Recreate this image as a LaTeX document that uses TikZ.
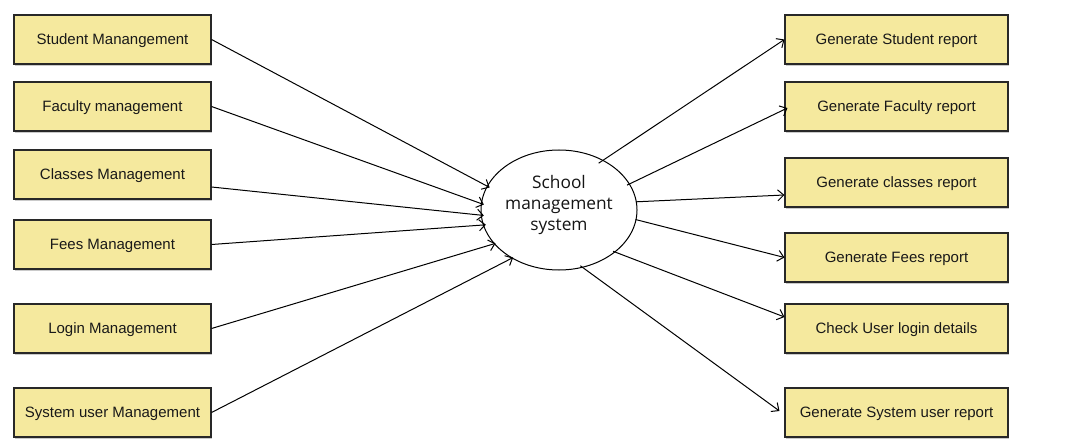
\documentclass[tikz,border=0pt]{standalone}
\usepackage{fontspec}
\setmainfont{Liberation Sans}
\newfontfamily\ellfont{Open Sans}
\usetikzlibrary{arrows.meta,shapes.geometric,calc,shadows}
\definecolor{boxfill}{RGB}{245,233,158}
\definecolor{boxline}{RGB}{40,40,40}
\tikzset{
  procbox/.style={draw=boxline, fill=boxfill, line width=1.1pt, minimum height=49pt, inner sep=0pt,
    text height=10.7pt, text depth=0pt,
    font=\fontsize{15}{17}\selectfont, text=black!90,
    drop shadow={shadow xshift=0.8pt, shadow yshift=-1.6pt, fill=black!35, opacity=0.6}},
  lbox/.style={procbox, minimum width=197pt},
  rbox/.style={procbox, minimum width=223pt},
  sysell/.style={ellipse, draw=black, line width=1pt, fill=white, minimum width=156pt, minimum height=120pt, inner sep=0pt,
    font=\ellfont\fontsize{17.3}{21}\selectfont, text=black!92},
  flow/.style={draw=black, line width=1pt, -{Straight Barb[length=6pt, width=11pt, line width=1pt]}}
}
\begin{document}
\begin{tikzpicture}[x=1pt, y=-1pt]
\useasboundingbox (0,0) rectangle (1075,446);
% left boxes
\node[lbox] (l1) at (112.5,39.5) {Student Manangement};
\node[lbox] (l2) at (112.5,106.5) {Faculty management};
\node[lbox] (l3) at (112.5,174.5) {Classes Management};
\node[lbox] (l4) at (112.5,244.5) {Fees Management};
\node[lbox] (l5) at (112.5,328.5) {Login Management};
\node[lbox] (l6) at (112.5,412.5) {System user Management};
% right boxes
\node[rbox] (r1) at (896.5,39.5) {Generate Student report};
\node[rbox] (r2) at (896.5,106.5) {Generate Faculty report};
\node[rbox] (r3) at (896.5,182.5) {Generate classes report};
\node[rbox] (r4) at (896.5,257.5) {Generate Fees report};
\node[rbox] (r5) at (896.5,328.5) {Check User login details};
\node[rbox] (r6) at (896.5,412.5) {Generate System user report};
% central process
\node[sysell] (sys) at (559,210) {\raisebox{5pt}[\height][\depth]{\begin{tabular}{@{}c@{}}School\\management\\system\end{tabular}}};
% coordinates
\coordinate (l3s) at ($(l3.east)+(0,12.5)$);
\coordinate (r3e) at ($(r3.west)+(0,12.5)$);
\coordinate (r5e) at ($(r5.west)+(0,-11.5)$);
\coordinate (r6e) at ($(r6.west)+(-5,-1.5)$);
\coordinate (r2e) at ($(r2.west)+(3,1.5)$);
% incoming
\draw[flow] (l1.east) -- ($(sys.162)+(3,1)$);
\draw[flow] (l2.east) -- ($(sys.176)+(3,0)$);
\draw[flow] (l3s) -- ($(sys.184.6)+(3,0)$);
\draw[flow] (l4.east) -- ($(sys.191.3)+(3,0)$);
\draw[flow] (l5.east) -- ($(sys.207.6)+(2,0)$);
\draw[flow] (l6.east) -- ($(sys.226.8)+(1,-1)$);
% outgoing
\draw[flow] ($(sys.50.3)+(-3,4)$) -- (r1.west);
\draw[flow] ($(sys.20.5)+(-3,1)$) -- (r2e);
\draw[flow] ($(sys.6.4)+(-1,0)$) -- (r3e);
\draw[flow] ($(sys.-7.8)+(-1,0)$) -- (r4.west);
\draw[flow] ($(sys.-37)+(-2,-1)$) -- (r5e);
\draw[flow] ($(sys.-68)+(-2,-2)$) -- (r6e);
\end{tikzpicture}
\end{document}
